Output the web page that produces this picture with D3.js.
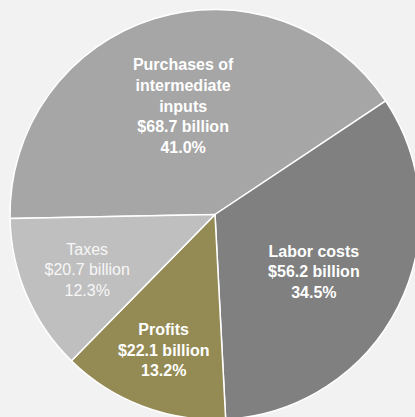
<!DOCTYPE html>
<html>
<head>
<meta charset="utf-8">
<script src="https://cdn.jsdelivr.net/npm/d3@7"></script>
<style>
  html, body { margin: 0; padding: 0; background: #f2f2f2; }
  svg { display: block; }
</style>
</head>
<body>
<div id="chart"></div>
<script>
// Where the value of an industry's output goes (billions of dollars)
const categories = ["Purchases of intermediate inputs", "Labor costs", "Profits", "Taxes"];
const values = [68.7, 56.2, 22.1, 20.7];
const shares = [41.0, 34.5, 13.2, 12.3];
const labelLines = [
  ["Purchases of", "intermediate", "inputs"],
  ["Labor costs"],
  ["Profits"],
  ["Taxes"]
];
const colors = ["#a6a6a6", "#808080", "#948a54", "#bfbfbf"];

// Label layout: distance from centre (fraction of radius), angular nudge (deg), weight
const labelRadius = [0.552, 0.557, 0.707, 0.679];
const labelNudge = [1, 3.3, 0, 0];
const labelWeight = ["bold", "bold", "bold", "normal"];

const width = 415, height = 417;
const cx = 215, cy = 214.5, radius = 205;
const fontSize = 16, lineHeight = 20.7, capHeight = 11.5;

const svg = d3.select("#chart").append("svg")
  .attr("width", width)
  .attr("height", height);

svg.append("rect").attr("width", width).attr("height", height).attr("fill", "#f2f2f2");

const g = svg.append("g").attr("transform", `translate(${cx},${cy})`);

const startAngle = -91.1 * Math.PI / 180;
const pie = d3.pie()
  .sort(null)
  .value(d => d)
  .startAngle(startAngle)
  .endAngle(startAngle + 2 * Math.PI);

const arcs = pie(values);
const arc = d3.arc().innerRadius(0).outerRadius(radius);

g.selectAll("path.slice")
  .data(arcs)
  .join("path")
  .attr("class", "slice")
  .attr("d", arc)
  .attr("fill", (d, i) => colors[i])
  .attr("stroke", "#ffffff")
  .attr("stroke-width", 1.5)
  .attr("stroke-linejoin", "round");

const fmt = d3.format(".1f");

const labels = g.selectAll("text.label")
  .data(arcs)
  .join("text")
  .attr("class", "label")
  .attr("text-anchor", "middle")
  .attr("font-family", "'Liberation Sans', Arial, sans-serif")
  .attr("font-size", fontSize)
  .attr("font-weight", (d, i) => labelWeight[i])
  .attr("fill", (d, i) => i === 3 ? "#f7f7f7" : "#ffffff")
  .each(function (d, i) {
    const mid = (d.startAngle + d.endAngle) / 2 + labelNudge[i] * Math.PI / 180;
    const rr = labelRadius[i] * radius;
    const x = rr * Math.sin(mid);
    const y = -rr * Math.cos(mid);
    const lines = labelLines[i].concat([`$${fmt(values[i])} billion`, `${fmt(shares[i])}%`]);
    const blockH = capHeight + (lines.length - 1) * lineHeight;
    const y0 = y - blockH / 2 + capHeight;
    const t = d3.select(this);
    lines.forEach((s, k) => {
      t.append("tspan")
        .attr("x", x)
        .attr("y", y0 + k * lineHeight)
        .text(s);
    });
  });
</script>
</body>
</html>
